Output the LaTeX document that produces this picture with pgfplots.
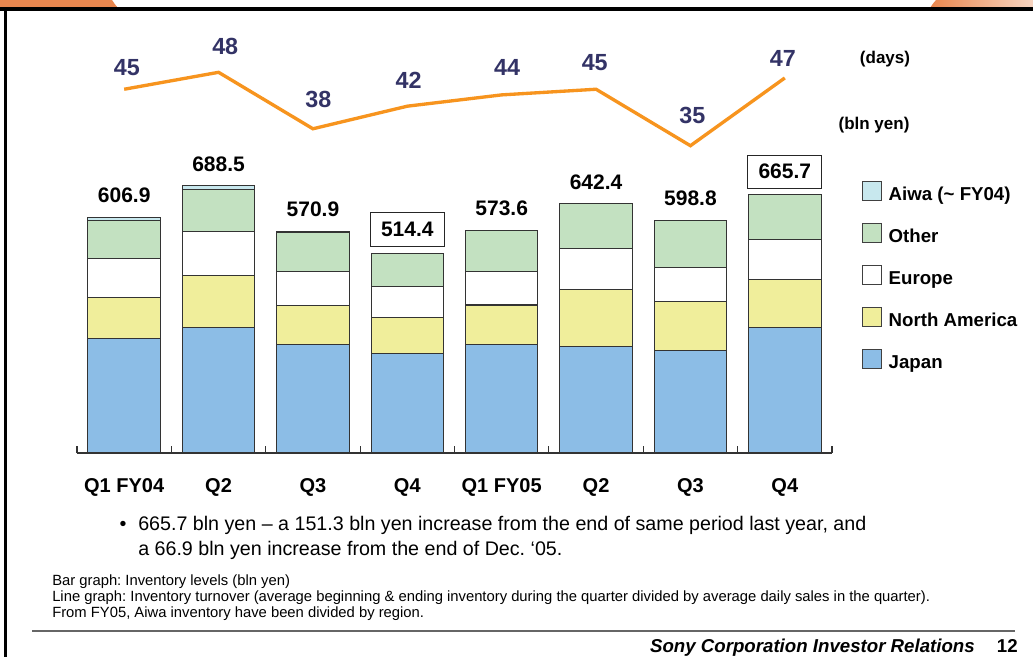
\documentclass[border=0pt]{standalone}
\usepackage{pgfplots}
\pgfplotsset{compat=1.18}
\usepackage{pgfplotstable}
\usepackage{fontspec}
\setmainfont{Liberation Sans}
\frenchspacing
\definecolor{japan}{HTML}{8CBDE6}
\definecolor{namer}{HTML}{F0EE9B}
\definecolor{other}{HTML}{C3E1C1}
\definecolor{aiwa}{HTML}{C8E8EE}
\definecolor{lineor}{HTML}{F7941E}
\definecolor{navy}{HTML}{333366}
\definecolor{deco}{HTML}{E9874F}

\pgfplotstableread{
x Japan NA Europe Other
0 294   106   102.5 97.5
1 324.5 132   114   108
2 279.4 100   89.5  99
3 256.4 93    80    84
4 279   102.5 87    105.1
5 275   147   105   115.4
6 264.3 127.4 86    121.1
7 323.3 124.8 101.6 116
}\inv

\pgfplotsset{sqlegend/.style={legend image code/.code={\draw[##1,draw=black!75,line width=0.6pt] (0pt,-3pt) rectangle (14.25pt,11.25pt);}}}

\begin{document}
\begin{tikzpicture}
\useasboundingbox (0,0) rectangle (774.75pt,-492.75pt);
\fill[white] (0,0) rectangle (774.75pt,-492.75pt);
\begin{scope}[x=0.75pt,y=-0.75pt]
  % top decorations
  \fill[deco] (0,0) -- (112,0) .. controls (114,3) and (116,6) .. (118,8) -- (0,8) -- cycle;
  \shade[left color=deco, right color=deco!35] (930,8) .. controls (932,5) and (934,2) .. (936,0) -- (1033,0) -- (1033,8) -- cycle;
  \fill[black] (0,7.3) rectangle (1033,10.7);
  \fill[black] (3.8,7.3) rectangle (7.2,657);
  % units
  \node[font=\bfseries\fontsize{12.75}{15}\selectfont] at (885,59.3) {(days)};
  \node[font=\bfseries\fontsize{12.75}{15}\selectfont] at (874,125) {(bln yen)};
  % bullet text
  \node[anchor=base west,font=\fontsize{14.75}{17}\selectfont] at (115,530) {\textbullet};
  \node[anchor=base west,inner sep=0pt,font=\fontsize{14.75}{17}\selectfont] at (138,530) {665.7 bln yen -- a 151.3 bln yen increase from the end of same period last year, and};
  \node[anchor=base west,inner sep=0pt,font=\fontsize{14.75}{17}\selectfont] at (138,555) {a 66.9 bln yen increase from the end of Dec. `05.};
  % notes
  \node[anchor=base west,inner sep=0pt,font=\fontsize{11.1}{12}\selectfont] at (52,585) {Bar graph: Inventory levels (bln yen)};
  \node[anchor=base west,inner sep=0pt,font=\fontsize{11.1}{12}\selectfont] at (52,601) {Line graph: Inventory turnover (average beginning \& ending inventory during the quarter divided by average daily sales in the quarter).};
  \node[anchor=base west,inner sep=0pt,font=\fontsize{11.1}{12}\selectfont] at (52,617) {From FY05, Aiwa inventory have been divided by region.};
  % footer
  \draw[black!60,line width=1.5pt] (32,631) -- (1015,631);
  \node[anchor=base east,inner sep=0pt,font=\bfseries\itshape\fontsize{14}{16}\selectfont] at (975,652) {Sony Corporation Investor Relations};
  \node[anchor=base east,inner sep=0pt,font=\bfseries\fontsize{14}{16}\selectfont] at (1018,652) {12};
\end{scope}

% bar axis
\begin{axis}[
  at={(57.75pt,-339.75pt)}, anchor=south west,
  scale only axis, width=566.25pt, height=227.25pt,
  xmin=-0.5, xmax=7.5, ymin=0, ymax=781,
  ybar stacked, bar width=54.4pt,
  axis x line*=bottom, axis y line=none,
  axis line style={line width=1pt,black!80},
  xtick={0,...,7},
  xticklabels={Q1 FY04,Q2,Q3,Q4,Q1 FY05,Q2,Q3,Q4},
  xticklabel style={anchor=base,yshift=-29.25pt,font=\bfseries\fontsize{15}{18}\selectfont},
  major tick length=0pt,
  extra x ticks={-0.5,0.5,...,7.5},
  extra x tick labels={},
  extra x tick style={major tick length=5pt,tick align=inside,tick style={line width=0.8pt,black!80}},
  clip=false,
  reverse legend,
  legend style={at={(1.0397,0.899)},anchor=north west,draw=none,fill=none,inner sep=0pt,
    row sep=12.4pt,column sep=4pt,font=\bfseries\fontsize{14}{16}\selectfont,
    nodes={inner sep=1pt,text height=10pt,text depth=3pt},cells={anchor=west}},
]
\addplot[fill=japan,draw=black!80,line width=0.8pt,sqlegend] table[x=x,y=Japan]{\inv};
\addlegendentry{Japan}
\addplot[fill=namer,draw=black!80,line width=0.8pt,sqlegend] table[x=x,y=NA]{\inv};
\addlegendentry{North America}
\addplot[fill=white,draw=black!80,line width=0.8pt,sqlegend] table[x=x,y=Europe]{\inv};
\addlegendentry{Europe}
\addplot[fill=other,draw=black!80,line width=0.8pt,sqlegend] table[x=x,y=Other]{\inv};
\addlegendentry{Other}
\addplot[fill=aiwa,draw=black!80,line width=0.8pt,sqlegend] coordinates {(0,6.9)(1,10)(2,3)(3,1)};
\addlegendentry{Aiwa (\textasciitilde\ FY04)}
% totals
\node[font=\bfseries\fontsize{15.75}{18}\selectfont] at (axis cs:0,606.9) [yshift=16.5pt] {606.9};
\node[font=\bfseries\fontsize{15.75}{18}\selectfont] at (axis cs:1,688.5) [yshift=16.5pt] {688.5};
\node[font=\bfseries\fontsize{15.75}{18}\selectfont] at (axis cs:2,570.9) [yshift=16.5pt] {570.9};
\node[font=\bfseries\fontsize{15.75}{18}\selectfont] at (axis cs:3,514.4) [yshift=18pt,draw=black!85,line width=0.7pt,minimum width=55.5pt,minimum height=25pt,inner sep=0pt] {514.4};
\node[font=\bfseries\fontsize{15.75}{18}\selectfont] at (axis cs:4,573.6) [yshift=16.5pt] {573.6};
\node[font=\bfseries\fontsize{15.75}{18}\selectfont] at (axis cs:5,642.4) [yshift=16.5pt] {642.4};
\node[font=\bfseries\fontsize{15.75}{18}\selectfont] at (axis cs:6,598.8) [yshift=16.5pt] {598.8};
\node[font=\bfseries\fontsize{15.75}{18}\selectfont] at (axis cs:7,665.7) [yshift=17.3pt,draw=black!85,line width=0.7pt,minimum width=55.5pt,minimum height=25pt,inner sep=0pt] {665.7};
\end{axis}

% line axis
\begin{axis}[
  at={(57.75pt,-120pt)}, anchor=south west,
  scale only axis, width=566.25pt, height=90pt,
  xmin=-0.5, xmax=7.5, ymin=32.47, ymax=53.72,
  hide axis, clip=false,
]
\addplot[color=lineor,line width=2.5pt,line join=miter,mark=none] coordinates {(0,45)(1,48)(2,38)(3,42)(4,44)(5,45)(6,35)(7,47)};
\node[font=\bfseries\fontsize{17.5}{20}\selectfont,text=navy] at (axis cs:0,45) [xshift=2pt,yshift=16pt] {45};
\node[font=\bfseries\fontsize{17.5}{20}\selectfont,text=navy] at (axis cs:1,48) [xshift=5pt,yshift=19.2pt] {48};
\node[font=\bfseries\fontsize{17.5}{20}\selectfont,text=navy] at (axis cs:2,38) [xshift=4pt,yshift=22.3pt] {38};
\node[font=\bfseries\fontsize{17.5}{20}\selectfont,text=navy] at (axis cs:3,42) [xshift=1pt,yshift=19pt] {42};
\node[font=\bfseries\fontsize{17.5}{20}\selectfont,text=navy] at (axis cs:4,44) [xshift=4pt,yshift=20.3pt] {44};
\node[font=\bfseries\fontsize{17.5}{20}\selectfont,text=navy] at (axis cs:5,45) [xshift=-1pt,yshift=19.7pt] {45};
\node[font=\bfseries\fontsize{17.5}{20}\selectfont,text=navy] at (axis cs:6,35) [xshift=1.5pt,yshift=22.3pt] {35};
\node[font=\bfseries\fontsize{17.5}{20}\selectfont,text=navy] at (axis cs:7,47) [xshift=-1.5pt,yshift=14.7pt] {47};
\end{axis}
\end{tikzpicture}
\end{document}
